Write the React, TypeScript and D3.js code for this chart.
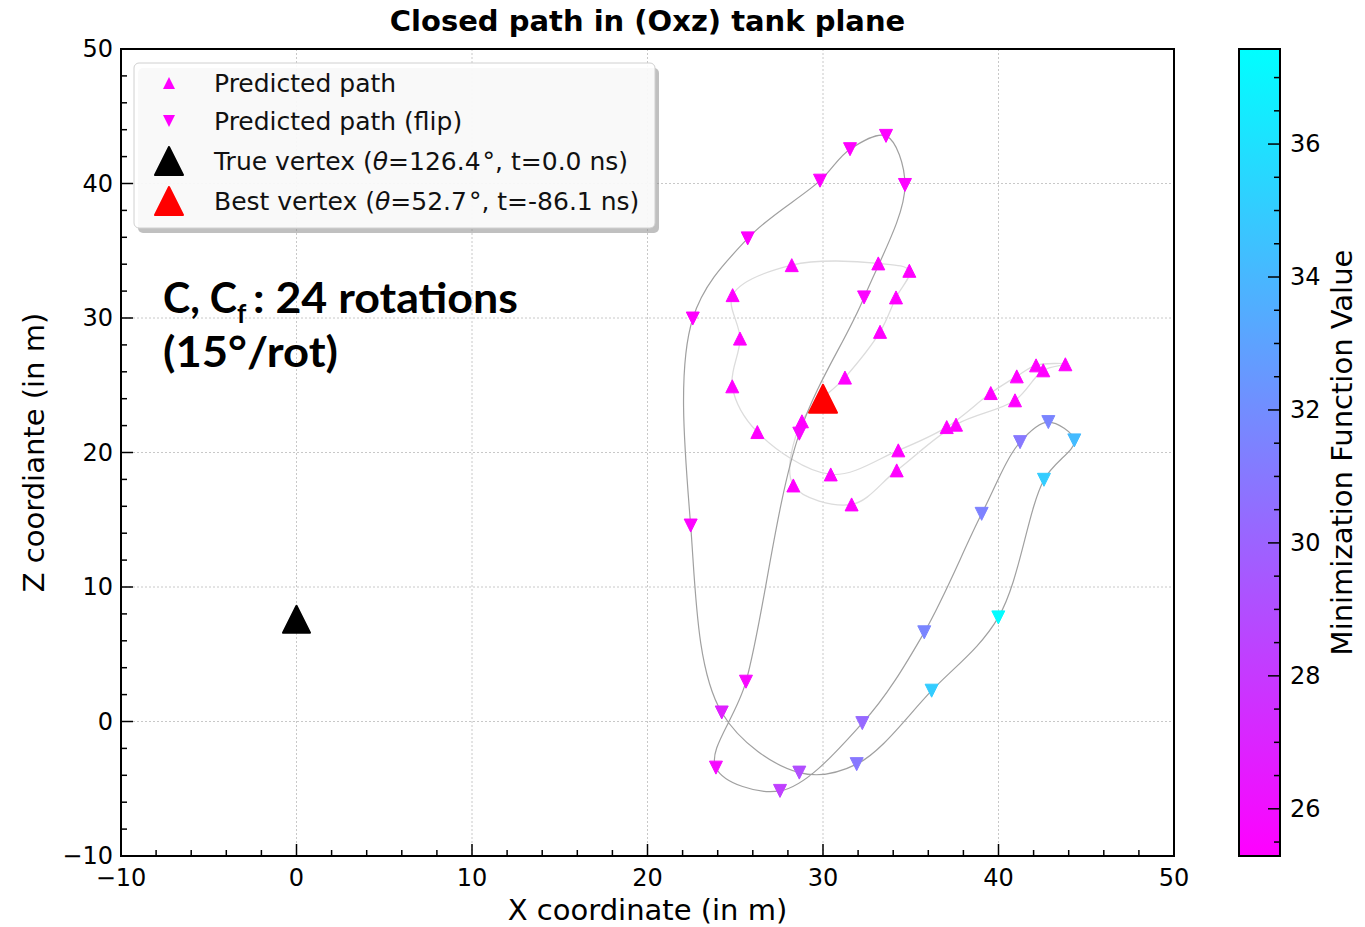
import React from "react";
import * as d3 from "d3";

// ---------- DATA ----------
// Predicted path (up triangles), in path order
const predX = [28.22, 33.15, 34.92, 34.16, 33.25, 31.25, 28.8, 28.31, 31.63, 34.2, 37.58, 40.94, 42.55, 43.81, 42.14, 41.04, 39.56, 37.05, 34.29, 30.44, 26.26, 24.83, 25.27, 24.85];
const predZ = [33.93, 34.06, 33.51, 31.53, 28.97, 25.57, 22.32, 17.55, 16.14, 18.67, 22.07, 23.88, 26.11, 26.56, 26.48, 25.66, 24.42, 21.89, 20.16, 18.37, 21.52, 24.92, 28.47, 31.7];
const predVal = [25.3, 25.3, 25.3, 25.3, 25.3, 25.3, 25.3, 25.3, 25.3, 25.3, 25.3, 25.3, 25.3, 25.3, 25.3, 25.3, 25.3, 25.3, 25.3, 25.3, 25.3, 25.3, 25.3, 25.3];

// Predicted path (flip, down triangles), in path order
const flipX = [33.59, 34.67, 32.34, 28.65, 25.61, 23.9, 27.55, 32.24, 35.77, 39.04, 41.23, 42.84, 44.32, 42.59, 39.99, 36.19, 31.92, 28.65, 24.23, 22.46, 22.58, 25.71, 29.83, 31.54];
const flipZ = [43.54, 39.89, 31.53, 21.4, 2.96, -3.43, -5.16, -0.12, 6.63, 15.44, 20.77, 22.26, 20.9, 17.97, 7.74, 2.29, -3.17, -3.8, 0.67, 14.57, 29.96, 35.92, 40.21, 42.55];
const flipVal = [25.4, 25.4, 25.5, 25.6, 25.6, 25.7, 28.3, 30.3, 31.6, 31.5, 31.0, 31.6, 34.2, 35.0, 37.3, 35.0, 31.0, 29.0, 26.8, 25.4, 25.3, 25.3, 25.3, 25.3];

const trueVertex = { x: 0, z: 7.6 };
const bestVertex = { x: 30.0, z: 24.0 };

const xTicks = [-10, 0, 10, 20, 30, 40, 50];
const yTicks = [-10, 0, 10, 20, 30, 40, 50];
const cbarTicks = [26, 28, 30, 32, 34, 36];
const cbarDomain = [25.29, 37.43];

const legendLabels = ["Predicted path", "Predicted path (flip)"];

// ---------- LAYOUT ----------
const W = 1365, H = 927;
const FONT = "'DejaVu Sans', sans-serif";

const x = d3.scaleLinear().domain([-10, 50]).range([121, 1174]);
const y = d3.scaleLinear().domain([-10, 50]).range([856, 49]);
const cb = d3.scaleLinear().domain(cbarDomain).range([856, 49]);
const CB_X0 = 1239, CB_X1 = 1280;

// cool_r colormap: low -> magenta, high -> cyan
const coolR = (v: number) => {
  const t = Math.max(0, Math.min(1, (v - cbarDomain[0]) / (cbarDomain[1] - cbarDomain[0])));
  return d3.rgb(255 * (1 - t), 255 * t, 255).formatHex();
};

const triUp = (cx: number, cy: number, s: number) =>
  `M${cx},${cy - s}L${cx - s},${cy + s}L${cx + s},${cy + s}Z`;
const triDown = (cx: number, cy: number, s: number) =>
  `M${cx},${cy + s}L${cx - s},${cy - s}L${cx + s},${cy - s}Z`;

const range = (a: number, b: number, step: number) => {
  const out: number[] = [];
  for (let v = a; v <= b + 1e-9; v += step) out.push(+v.toFixed(4));
  return out;
};

export default function App() {
  const predPts = predX.map((v, i) => [v, predZ[i]] as [number, number]);
  const flipPts = flipX.map((v, i) => [v, flipZ[i]] as [number, number]);
  const line = d3
    .line<[number, number]>()
    .x((d) => x(d[0]))
    .y((d) => y(d[1]))
    .curve(d3.curveCatmullRomClosed.alpha(0.5));

  const xMinor = range(-10, 50, 2).filter((v) => !xTicks.includes(v));
  const yMinor = range(-10, 50, 2).filter((v) => !yTicks.includes(v));
  const cbMinor = range(25.5, 37, 0.5).filter((v) => !cbarTicks.includes(v));

  const MAJ = 12, MIN = 6;
  const [x0, x1] = x.range();
  const [y0, y1] = y.range();

  const legendRows = [83, 121, 161, 201];

  return (
    <div style={{ position: "fixed", left: 0, top: 0, width: W, height: H, background: "#fff" }}>
      <svg width={W} height={H} style={{ display: "block" }}>
        <defs>
          <linearGradient id="cbgrad" x1="0" y1="1" x2="0" y2="0">
            <stop offset="0%" stopColor={coolR(cbarDomain[0])} />
            <stop offset="100%" stopColor={coolR(cbarDomain[1])} />
          </linearGradient>
          <clipPath id="plotclip">
            <rect x={x0} y={y1} width={x1 - x0} height={y0 - y1} />
          </clipPath>
        </defs>
        <rect x={0} y={0} width={W} height={H} fill="#fff" />

        {/* grid */}
        <g stroke="#c8c8c8" strokeWidth={1} strokeDasharray="2,2">
          {xTicks.slice(1, -1).map((t) => (
            <line key={"gx" + t} x1={x(t)} x2={x(t)} y1={y1} y2={y0} />
          ))}
          {yTicks.slice(1, -1).map((t) => (
            <line key={"gy" + t} x1={x0} x2={x1} y1={y(t)} y2={y(t)} />
          ))}
        </g>

        <g clipPath="url(#plotclip)">
          {/* paths */}
          <path d={line(predPts) || ""} fill="none" stroke="#dcdcdc" strokeWidth={1.3} />
          <path d={line(flipPts) || ""} fill="none" stroke="#a0a0a0" strokeWidth={1.2} />

          {/* markers */}
          {predPts.map((p, i) => {
            const c = coolR(predVal[i]);
            return (
              <path key={"pu" + i} d={triUp(x(p[0]), y(p[1]), 6.5)} fill={c} stroke={c} strokeWidth={1} strokeLinejoin="round" />
            );
          })}
          {flipPts.map((p, i) => {
            const c = coolR(flipVal[i]);
            return (
              <path key={"pd" + i} d={triDown(x(p[0]), y(p[1]), 6.5)} fill={c} stroke={c} strokeWidth={1} strokeLinejoin="round" />
            );
          })}
          <path d={triUp(x(trueVertex.x), y(trueVertex.z), 13.5)} fill="#000" stroke="#000" strokeWidth={2} strokeLinejoin="round" />
          <path d={triUp(x(bestVertex.x), y(bestVertex.z), 14)} fill="#ff0000" stroke="#ff0000" strokeWidth={2} strokeLinejoin="round" />
        </g>

        {/* ticks */}
        <g stroke="#000" strokeWidth={1.5}>
          {xTicks.map((t) => (
            <line key={"tx" + t} x1={x(t)} x2={x(t)} y1={y0} y2={y0 - MAJ} />
          ))}
          {xMinor.map((t) => (
            <line key={"mx" + t} x1={x(t)} x2={x(t)} y1={y0} y2={y0 - MIN} />
          ))}
          {yTicks.map((t) => (
            <line key={"ty" + t} x1={x0} x2={x0 + MAJ} y1={y(t)} y2={y(t)} />
          ))}
          {yMinor.map((t) => (
            <line key={"my" + t} x1={x0} x2={x0 + MIN} y1={y(t)} y2={y(t)} />
          ))}
        </g>
        <rect x={x0} y={y1} width={x1 - x0} height={y0 - y1} fill="none" stroke="#000" strokeWidth={2} />

        {/* tick labels */}
        <g fontFamily={FONT} fontSize={24} fill="#000">
          {xTicks.map((t) => (
            <text key={"lx" + t} x={x(t)} y={886} textAnchor="middle">
              {t < 0 ? "\u2212" + Math.abs(t) : t}
            </text>
          ))}
          {yTicks.map((t) => (
            <text key={"ly" + t} x={x0 - 8} y={y(t)} dy="0.35em" textAnchor="end">
              {t < 0 ? "\u2212" + Math.abs(t) : t}
            </text>
          ))}
        </g>

        {/* axis labels and title */}
        <text x={(x0 + x1) / 2} y={31} textAnchor="middle" fontFamily={FONT} fontWeight="bold" fontSize={29}>
          Closed path in (Oxz) tank plane
        </text>
        <text x={(x0 + x1) / 2} y={920} textAnchor="middle" fontFamily={FONT} fontSize={29}>
          X coordinate (in m)
        </text>
        <text transform={`translate(44,${(y0 + y1) / 2}) rotate(-90)`} textAnchor="middle" fontFamily={FONT} fontSize={29}>
          Z coordiante (in m)
        </text>

        {/* legend */}
        <rect x={138} y={68} width={521} height={165} rx={5} fill="#8c8c8c" opacity={0.55} />
        <rect x={134} y={63} width={521} height={165} rx={5} fill="#fff" fillOpacity={0.9} stroke="#d0d0d0" strokeWidth={1} />
        <path d={triUp(169, legendRows[0], 6)} fill={coolR(25.3)} />
        <path d={triDown(169, legendRows[1], 6)} fill={coolR(25.3)} />
        <path d={triUp(169, legendRows[2], 14)} fill="#000" stroke="#000" strokeWidth={2} strokeLinejoin="round" />
        <path d={triUp(169, legendRows[3], 14)} fill="#ff0000" stroke="#ff0000" strokeWidth={2} strokeLinejoin="round" />
        <g fontFamily={FONT} fontSize={25} fill="#111">
          <text x={214} y={legendRows[0]} dy="0.35em">{legendLabels[0]}</text>
          <text x={214} y={legendRows[1]} dy="0.35em">{legendLabels[1]}</text>
          <text x={214} y={legendRows[2]} dy="0.35em">
            True vertex (<tspan fontStyle="italic">θ</tspan>=126.4<tspan dx="2">°</tspan>, t=0.0 ns)
          </text>
          <text x={214} y={legendRows[3]} dy="0.35em">
            Best vertex (<tspan fontStyle="italic">θ</tspan>=52.7<tspan dx="2">°</tspan>, t=-86.1 ns)
          </text>
        </g>

        {/* annotation */}
        <g fontFamily="Lato, 'Open Sans', sans-serif" fontWeight={700} fill="#000">
          <text x={163} y={313} fontSize={42} textLength={74} lengthAdjust="spacingAndGlyphs">C, C</text>
          <text x={237} y={323} fontSize={26}>f</text>
          <text x={253} y={313} fontSize={42} textLength={265} lengthAdjust="spacingAndGlyphs">: 24 rotations</text>
          <text x={163} y={367} fontSize={42} textLength={175} lengthAdjust="spacingAndGlyphs">(15°/rot)</text>
        </g>

        {/* colorbar */}
        <rect x={CB_X0} y={cb.range()[1]} width={CB_X1 - CB_X0} height={cb.range()[0] - cb.range()[1]} fill="url(#cbgrad)" />
        <g stroke="#000" strokeWidth={1.5}>
          {cbarTicks.map((t) => (
            <line key={"ct" + t} x1={CB_X1} x2={CB_X1 - MAJ} y1={cb(t)} y2={cb(t)} />
          ))}
          {cbMinor.map((t) => (
            <line key={"cm" + t} x1={CB_X1} x2={CB_X1 - MIN} y1={cb(t)} y2={cb(t)} />
          ))}
        </g>
        <rect x={CB_X0} y={cb.range()[1]} width={CB_X1 - CB_X0} height={cb.range()[0] - cb.range()[1]} fill="none" stroke="#000" strokeWidth={2} />
        <g fontFamily={FONT} fontSize={24} fill="#000">
          {cbarTicks.map((t) => (
            <text key={"cl" + t} x={1290} y={cb(t)} dy="0.35em">{t}</text>
          ))}
        </g>
        <text transform={`translate(1352,${(cb.range()[0] + cb.range()[1]) / 2}) rotate(-90)`} textAnchor="middle" fontFamily={FONT} fontSize={29}>
          Minimization Function Value
        </text>
      </svg>
    </div>
  );
}
